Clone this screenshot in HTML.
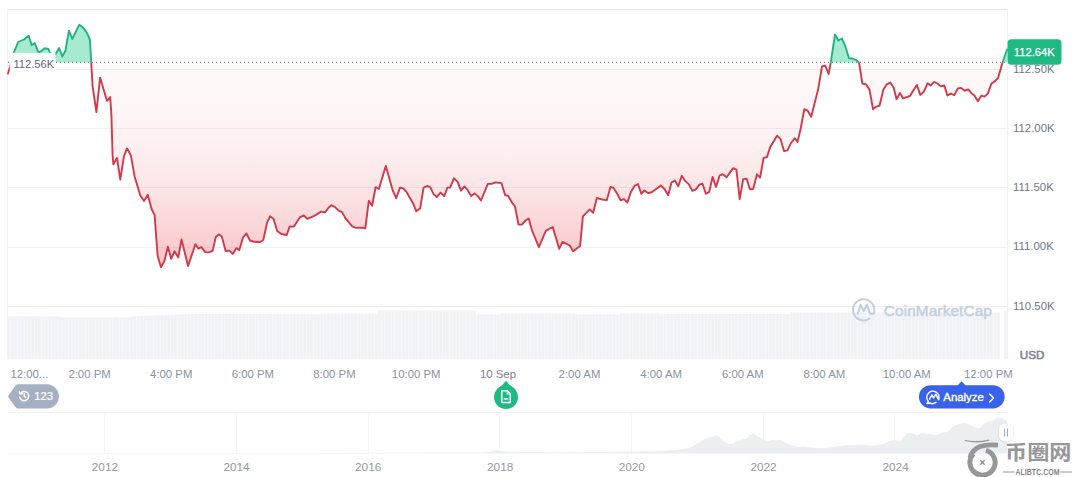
<!DOCTYPE html>
<html><head><meta charset="utf-8"><title>Chart</title>
<style>
html,body{margin:0;padding:0;background:#fff;}
body{width:1072px;height:477px;overflow:hidden;position:relative;font-family:"Liberation Sans","Noto Sans CJK SC",sans-serif;}
svg{position:absolute;left:0;top:0;}
text{font-family:"Liberation Sans","Noto Sans CJK SC",sans-serif;}
.ax{font-size:11.4px;fill:#8c93a1;}
.ay{font-size:11.4px;fill:#6f7787;}
.yr{font-size:11.8px;fill:#9399a6;}
</style></head><body>
<svg width="1072" height="477" viewBox="0 0 1072 477">
<defs>
<linearGradient id="rg" x1="0" y1="62" x2="0" y2="270" gradientUnits="userSpaceOnUse">
<stop offset="0" stop-color="#ea3943" stop-opacity="0.025"/>
<stop offset="0.33" stop-color="#ea3943" stop-opacity="0.058"/>
<stop offset="0.62" stop-color="#ea3943" stop-opacity="0.135"/>
<stop offset="0.88" stop-color="#ea3943" stop-opacity="0.25"/>
<stop offset="1" stop-color="#ea3943" stop-opacity="0.30"/>
</linearGradient>
<clipPath id="above"><rect x="0" y="0" width="1072" height="62.4"/></clipPath>
<clipPath id="below"><rect x="0" y="62.4" width="1072" height="300"/></clipPath>
<pattern id="stripes" width="3.4" height="60" patternUnits="userSpaceOnUse"><rect x="0" y="0" width="0.8" height="60" fill="#fff" fill-opacity="0.42"/></pattern>
</defs>
<!-- frame & grid -->
<g stroke="#f0f0f2" stroke-width="1" shape-rendering="crispEdges">
<line x1="8" y1="9.5" x2="1008" y2="9.5" stroke="#e6e6e8"/>
<line x1="7.5" y1="9" x2="7.5" y2="359" stroke="#f1f1f3"/>
<line x1="1007.5" y1="9" x2="1007.5" y2="359" stroke="#f1f1f3"/>
<line x1="8" y1="69.5" x2="1008" y2="69.5"/>
<line x1="8" y1="128.5" x2="1008" y2="128.5"/>
<line x1="8" y1="187.5" x2="1008" y2="187.5"/>
<line x1="8" y1="247.5" x2="1008" y2="247.5"/>
<line x1="8" y1="306.5" x2="1008" y2="306.5"/>
</g>
<!-- volume -->
<path d="M8 359 L8 316.6 L20 316.2 L58 316.6 L64 317.4 L126 317.4 L134 316.4 L150 315.4 L180 314.4 L190 314 L340 313.8 L377 313.8 L377 310.6 L475.5 310.6 L475.5 314.6 L500 314.4 L500 313.6 L575 313.6 L575 314.4 L620 314.4 L620 313.6 L660 313.6 L660 314 L790 314 L790 312.4 L1000 312.4 L1000 359 L1004 359 L1004 311.5 L1007.5 311.5 L1007.5 359 Z" fill="#eff2f6"/>
<path d="M8 359 L8 316.6 L20 316.2 L58 316.6 L64 317.4 L126 317.4 L134 316.4 L150 315.4 L180 314.4 L190 314 L340 313.8 L377 313.8 L377 310.6 L475.5 310.6 L475.5 314.6 L500 314.4 L500 313.6 L575 313.6 L575 314.4 L620 314.4 L620 313.6 L660 313.6 L660 314 L790 314 L790 312.4 L1000 312.4 L1000 359 L1004 359 L1004 311.5 L1007.5 311.5 L1007.5 359 Z" fill="url(#stripes)"/>
<!-- fills -->
<path d="M11.18 62.40 L11.80 60.00 L13.80 52.70 L18.20 42.00 L23.90 39.50 L28.70 35.80 L31.70 45.20 L34.60 42.90 L38.40 52.40 L40.90 51.50 L44.70 48.30 L48.40 49.00 L49.70 52.40 L52.50 56.00 L56.00 53.40 L59.10 48.00 L62.30 56.50 L65.40 50.80 L68.90 30.70 L72.30 38.90 L79.20 24.80 L83.00 27.60 L86.80 32.60 L89.90 39.50 L91.20 62.20 L91.21 62.40 Z M830.80 62.40 L835.00 34.50 L838.40 40.50 L842.00 38.50 L845.30 46.30 L849.00 58.30 L852.80 58.50 L856.00 60.00 L859.00 62.40 Z M1002.54 62.40 L1002.60 62.20 L1007.00 49.50 L1007.00 62.40 Z" fill="#16c784" fill-opacity="0.38"/>
<path d="M8.00 62.40 L8.00 73.50 L10.00 67.00 L11.18 62.40 Z M91.21 62.40 L92.60 86.40 L96.40 112.20 L100.10 77.60 L107.00 100.90 L110.20 97.10 L111.40 115.00 L112.60 155.30 L113.40 164.30 L117.00 158.00 L120.30 179.60 L123.90 156.30 L127.00 148.40 L130.80 155.20 L134.60 176.40 L140.20 195.30 L144.00 201.00 L147.80 194.70 L151.60 209.00 L154.60 215.10 L157.60 255.80 L161.00 267.20 L164.40 261.10 L167.90 246.80 L171.20 258.90 L174.50 251.30 L178.30 257.40 L181.50 239.50 L188.10 266.00 L195.40 244.20 L198.40 248.60 L201.40 247.10 L205.20 252.10 L209.00 252.40 L212.70 250.60 L215.80 237.00 L218.80 234.40 L221.80 236.50 L225.60 251.00 L229.30 250.60 L232.80 253.90 L236.40 248.00 L239.20 250.30 L242.90 237.70 L246.40 233.50 L250.00 240.50 L254.20 241.80 L260.30 242.00 L263.30 240.00 L267.10 222.60 L270.10 216.30 L273.60 218.90 L277.20 230.90 L281.40 234.00 L286.70 235.00 L289.70 226.40 L294.00 226.60 L300.10 217.10 L303.90 215.50 L307.30 218.90 L313.70 216.20 L321.20 211.60 L325.00 212.40 L328.80 207.50 L331.50 205.30 L334.80 206.80 L338.60 210.60 L342.00 212.10 L345.40 218.10 L352.20 226.40 L355.90 227.90 L362.00 227.60 L365.30 228.40 L368.80 200.80 L372.10 205.70 L375.60 187.20 L378.90 189.00 L385.80 166.00 L392.90 190.90 L396.20 198.20 L400.00 187.60 L403.50 188.70 L406.50 192.00 L413.30 203.80 L416.30 211.30 L420.10 208.60 L423.60 187.60 L426.90 186.00 L430.20 187.20 L433.70 194.40 L436.70 197.00 L440.60 192.60 L444.20 196.10 L447.40 187.60 L450.10 187.60 L453.90 178.30 L457.60 181.90 L461.00 190.70 L464.40 186.40 L467.50 189.90 L471.20 195.90 L474.50 193.40 L478.00 196.40 L481.00 200.50 L487.80 183.90 L491.60 183.90 L495.40 182.40 L501.40 183.10 L505.20 195.20 L508.20 195.90 L512.00 202.70 L515.00 206.50 L518.50 224.60 L521.80 224.60 L525.60 220.50 L528.70 218.50 L532.00 230.50 L538.90 247.20 L545.80 230.80 L552.70 227.00 L559.20 248.80 L562.50 241.90 L569.70 245.50 L573.10 251.30 L580.10 245.90 L582.90 216.40 L589.80 209.40 L593.20 212.80 L596.80 198.00 L603.60 199.80 L606.90 200.10 L610.40 187.00 L613.40 187.70 L617.20 193.80 L620.60 200.30 L624.00 199.10 L627.40 202.50 L630.80 192.30 L634.50 185.90 L638.00 184.00 L641.30 193.80 L644.30 190.50 L648.10 193.00 L651.60 192.30 L660.90 185.50 L664.70 189.20 L668.20 195.30 L671.50 182.50 L674.80 180.60 L678.30 186.20 L681.80 175.70 L685.10 180.90 L688.90 184.40 L692.30 190.80 L695.70 189.50 L699.40 184.70 L702.50 183.70 L705.90 193.80 L709.20 192.00 L712.60 176.90 L716.00 187.00 L719.50 175.70 L722.80 174.20 L726.60 177.20 L733.10 168.10 L736.40 169.60 L739.70 199.10 L743.20 179.20 L746.60 178.60 L749.90 189.30 L753.20 189.10 L757.00 174.30 L760.10 177.50 L763.60 157.90 L767.00 157.00 L770.20 147.00 L777.10 135.70 L780.50 139.10 L784.00 151.10 L787.50 150.40 L790.90 143.20 L794.70 138.20 L797.60 141.90 L800.80 128.00 L804.30 109.20 L807.30 110.30 L811.20 116.80 L818.10 89.60 L822.00 66.50 L825.20 65.60 L828.60 74.00 L830.80 62.40 L830.80 62.40 Z M859.00 62.40 L859.00 62.40 L862.40 83.60 L865.80 84.20 L869.50 89.60 L873.00 109.20 L875.80 106.80 L879.50 105.70 L883.40 89.60 L886.80 84.30 L890.30 82.60 L893.70 87.70 L896.50 99.20 L900.00 93.00 L903.00 98.30 L909.90 96.00 L916.80 84.90 L920.30 94.90 L923.70 91.90 L927.60 83.30 L930.60 85.60 L934.10 81.90 L937.60 83.50 L940.80 86.40 L944.20 85.40 L947.40 95.50 L950.60 93.60 L954.30 95.10 L957.80 88.40 L961.10 87.90 L964.80 90.70 L968.20 89.50 L971.20 92.90 L974.60 95.70 L977.90 101.30 L981.30 95.70 L984.60 96.60 L988.00 93.40 L991.30 83.70 L995.00 81.10 L998.00 78.30 L1002.54 62.40 Z" fill="url(#rg)"/>
<!-- baseline dotted -->
<line x1="8" y1="62.4" x2="1008" y2="62.4" stroke="#85878d" stroke-width="1.1" stroke-dasharray="1.1 2.9"/>
<!-- line -->
<path d="M8.0 73.5 L10.0 67.0 L11.8 60.0 L13.8 52.7 L18.2 42.0 L23.9 39.5 L28.7 35.8 L31.7 45.2 L34.6 42.9 L38.4 52.4 L40.9 51.5 L44.7 48.3 L48.4 49.0 L49.7 52.4 L52.5 56.0 L56.0 53.4 L59.1 48.0 L62.3 56.5 L65.4 50.8 L68.9 30.7 L72.3 38.9 L79.2 24.8 L83.0 27.6 L86.8 32.6 L89.9 39.5 L91.2 62.2 L92.6 86.4 L96.4 112.2 L100.1 77.6 L107.0 100.9 L110.2 97.1 L111.4 115.0 L112.6 155.3 L113.4 164.3 L117.0 158.0 L120.3 179.6 L123.9 156.3 L127.0 148.4 L130.8 155.2 L134.6 176.4 L140.2 195.3 L144.0 201.0 L147.8 194.7 L151.6 209.0 L154.6 215.1 L157.6 255.8 L161.0 267.2 L164.4 261.1 L167.9 246.8 L171.2 258.9 L174.5 251.3 L178.3 257.4 L181.5 239.5 L188.1 266.0 L195.4 244.2 L198.4 248.6 L201.4 247.1 L205.2 252.1 L209.0 252.4 L212.7 250.6 L215.8 237.0 L218.8 234.4 L221.8 236.5 L225.6 251.0 L229.3 250.6 L232.8 253.9 L236.4 248.0 L239.2 250.3 L242.9 237.7 L246.4 233.5 L250.0 240.5 L254.2 241.8 L260.3 242.0 L263.3 240.0 L267.1 222.6 L270.1 216.3 L273.6 218.9 L277.2 230.9 L281.4 234.0 L286.7 235.0 L289.7 226.4 L294.0 226.6 L300.1 217.1 L303.9 215.5 L307.3 218.9 L313.7 216.2 L321.2 211.6 L325.0 212.4 L328.8 207.5 L331.5 205.3 L334.8 206.8 L338.6 210.6 L342.0 212.1 L345.4 218.1 L352.2 226.4 L355.9 227.9 L362.0 227.6 L365.3 228.4 L368.8 200.8 L372.1 205.7 L375.6 187.2 L378.9 189.0 L385.8 166.0 L392.9 190.9 L396.2 198.2 L400.0 187.6 L403.5 188.7 L406.5 192.0 L413.3 203.8 L416.3 211.3 L420.1 208.6 L423.6 187.6 L426.9 186.0 L430.2 187.2 L433.7 194.4 L436.7 197.0 L440.6 192.6 L444.2 196.1 L447.4 187.6 L450.1 187.6 L453.9 178.3 L457.6 181.9 L461.0 190.7 L464.4 186.4 L467.5 189.9 L471.2 195.9 L474.5 193.4 L478.0 196.4 L481.0 200.5 L487.8 183.9 L491.6 183.9 L495.4 182.4 L501.4 183.1 L505.2 195.2 L508.2 195.9 L512.0 202.7 L515.0 206.5 L518.5 224.6 L521.8 224.6 L525.6 220.5 L528.7 218.5 L532.0 230.5 L538.9 247.2 L545.8 230.8 L552.7 227.0 L559.2 248.8 L562.5 241.9 L569.7 245.5 L573.1 251.3 L580.1 245.9 L582.9 216.4 L589.8 209.4 L593.2 212.8 L596.8 198.0 L603.6 199.8 L606.9 200.1 L610.4 187.0 L613.4 187.7 L617.2 193.8 L620.6 200.3 L624.0 199.1 L627.4 202.5 L630.8 192.3 L634.5 185.9 L638.0 184.0 L641.3 193.8 L644.3 190.5 L648.1 193.0 L651.6 192.3 L660.9 185.5 L664.7 189.2 L668.2 195.3 L671.5 182.5 L674.8 180.6 L678.3 186.2 L681.8 175.7 L685.1 180.9 L688.9 184.4 L692.3 190.8 L695.7 189.5 L699.4 184.7 L702.5 183.7 L705.9 193.8 L709.2 192.0 L712.6 176.9 L716.0 187.0 L719.5 175.7 L722.8 174.2 L726.6 177.2 L733.1 168.1 L736.4 169.6 L739.7 199.1 L743.2 179.2 L746.6 178.6 L749.9 189.3 L753.2 189.1 L757.0 174.3 L760.1 177.5 L763.6 157.9 L767.0 157.0 L770.2 147.0 L777.1 135.7 L780.5 139.1 L784.0 151.1 L787.5 150.4 L790.9 143.2 L794.7 138.2 L797.6 141.9 L800.8 128.0 L804.3 109.2 L807.3 110.3 L811.2 116.8 L818.1 89.6 L822.0 66.5 L825.2 65.6 L828.6 74.0 L830.8 62.4 L835.0 34.5 L838.4 40.5 L842.0 38.5 L845.3 46.3 L849.0 58.3 L852.8 58.5 L856.0 60.0 L859.0 62.4 L862.4 83.6 L865.8 84.2 L869.5 89.6 L873.0 109.2 L875.8 106.8 L879.5 105.7 L883.4 89.6 L886.8 84.3 L890.3 82.6 L893.7 87.7 L896.5 99.2 L900.0 93.0 L903.0 98.3 L909.9 96.0 L916.8 84.9 L920.3 94.9 L923.7 91.9 L927.6 83.3 L930.6 85.6 L934.1 81.9 L937.6 83.5 L940.8 86.4 L944.2 85.4 L947.4 95.5 L950.6 93.6 L954.3 95.1 L957.8 88.4 L961.1 87.9 L964.8 90.7 L968.2 89.5 L971.2 92.9 L974.6 95.7 L977.9 101.3 L981.3 95.7 L984.6 96.6 L988.0 93.4 L991.3 83.7 L995.0 81.1 L998.0 78.3 L1002.6 62.2 L1007.0 49.5" fill="none" stroke="#20b283" stroke-width="1.9" stroke-linejoin="round" stroke-linecap="round" clip-path="url(#above)"/>
<path d="M8.0 73.5 L10.0 67.0 L11.8 60.0 L13.8 52.7 L18.2 42.0 L23.9 39.5 L28.7 35.8 L31.7 45.2 L34.6 42.9 L38.4 52.4 L40.9 51.5 L44.7 48.3 L48.4 49.0 L49.7 52.4 L52.5 56.0 L56.0 53.4 L59.1 48.0 L62.3 56.5 L65.4 50.8 L68.9 30.7 L72.3 38.9 L79.2 24.8 L83.0 27.6 L86.8 32.6 L89.9 39.5 L91.2 62.2 L92.6 86.4 L96.4 112.2 L100.1 77.6 L107.0 100.9 L110.2 97.1 L111.4 115.0 L112.6 155.3 L113.4 164.3 L117.0 158.0 L120.3 179.6 L123.9 156.3 L127.0 148.4 L130.8 155.2 L134.6 176.4 L140.2 195.3 L144.0 201.0 L147.8 194.7 L151.6 209.0 L154.6 215.1 L157.6 255.8 L161.0 267.2 L164.4 261.1 L167.9 246.8 L171.2 258.9 L174.5 251.3 L178.3 257.4 L181.5 239.5 L188.1 266.0 L195.4 244.2 L198.4 248.6 L201.4 247.1 L205.2 252.1 L209.0 252.4 L212.7 250.6 L215.8 237.0 L218.8 234.4 L221.8 236.5 L225.6 251.0 L229.3 250.6 L232.8 253.9 L236.4 248.0 L239.2 250.3 L242.9 237.7 L246.4 233.5 L250.0 240.5 L254.2 241.8 L260.3 242.0 L263.3 240.0 L267.1 222.6 L270.1 216.3 L273.6 218.9 L277.2 230.9 L281.4 234.0 L286.7 235.0 L289.7 226.4 L294.0 226.6 L300.1 217.1 L303.9 215.5 L307.3 218.9 L313.7 216.2 L321.2 211.6 L325.0 212.4 L328.8 207.5 L331.5 205.3 L334.8 206.8 L338.6 210.6 L342.0 212.1 L345.4 218.1 L352.2 226.4 L355.9 227.9 L362.0 227.6 L365.3 228.4 L368.8 200.8 L372.1 205.7 L375.6 187.2 L378.9 189.0 L385.8 166.0 L392.9 190.9 L396.2 198.2 L400.0 187.6 L403.5 188.7 L406.5 192.0 L413.3 203.8 L416.3 211.3 L420.1 208.6 L423.6 187.6 L426.9 186.0 L430.2 187.2 L433.7 194.4 L436.7 197.0 L440.6 192.6 L444.2 196.1 L447.4 187.6 L450.1 187.6 L453.9 178.3 L457.6 181.9 L461.0 190.7 L464.4 186.4 L467.5 189.9 L471.2 195.9 L474.5 193.4 L478.0 196.4 L481.0 200.5 L487.8 183.9 L491.6 183.9 L495.4 182.4 L501.4 183.1 L505.2 195.2 L508.2 195.9 L512.0 202.7 L515.0 206.5 L518.5 224.6 L521.8 224.6 L525.6 220.5 L528.7 218.5 L532.0 230.5 L538.9 247.2 L545.8 230.8 L552.7 227.0 L559.2 248.8 L562.5 241.9 L569.7 245.5 L573.1 251.3 L580.1 245.9 L582.9 216.4 L589.8 209.4 L593.2 212.8 L596.8 198.0 L603.6 199.8 L606.9 200.1 L610.4 187.0 L613.4 187.7 L617.2 193.8 L620.6 200.3 L624.0 199.1 L627.4 202.5 L630.8 192.3 L634.5 185.9 L638.0 184.0 L641.3 193.8 L644.3 190.5 L648.1 193.0 L651.6 192.3 L660.9 185.5 L664.7 189.2 L668.2 195.3 L671.5 182.5 L674.8 180.6 L678.3 186.2 L681.8 175.7 L685.1 180.9 L688.9 184.4 L692.3 190.8 L695.7 189.5 L699.4 184.7 L702.5 183.7 L705.9 193.8 L709.2 192.0 L712.6 176.9 L716.0 187.0 L719.5 175.7 L722.8 174.2 L726.6 177.2 L733.1 168.1 L736.4 169.6 L739.7 199.1 L743.2 179.2 L746.6 178.6 L749.9 189.3 L753.2 189.1 L757.0 174.3 L760.1 177.5 L763.6 157.9 L767.0 157.0 L770.2 147.0 L777.1 135.7 L780.5 139.1 L784.0 151.1 L787.5 150.4 L790.9 143.2 L794.7 138.2 L797.6 141.9 L800.8 128.0 L804.3 109.2 L807.3 110.3 L811.2 116.8 L818.1 89.6 L822.0 66.5 L825.2 65.6 L828.6 74.0 L830.8 62.4 L835.0 34.5 L838.4 40.5 L842.0 38.5 L845.3 46.3 L849.0 58.3 L852.8 58.5 L856.0 60.0 L859.0 62.4 L862.4 83.6 L865.8 84.2 L869.5 89.6 L873.0 109.2 L875.8 106.8 L879.5 105.7 L883.4 89.6 L886.8 84.3 L890.3 82.6 L893.7 87.7 L896.5 99.2 L900.0 93.0 L903.0 98.3 L909.9 96.0 L916.8 84.9 L920.3 94.9 L923.7 91.9 L927.6 83.3 L930.6 85.6 L934.1 81.9 L937.6 83.5 L940.8 86.4 L944.2 85.4 L947.4 95.5 L950.6 93.6 L954.3 95.1 L957.8 88.4 L961.1 87.9 L964.8 90.7 L968.2 89.5 L971.2 92.9 L974.6 95.7 L977.9 101.3 L981.3 95.7 L984.6 96.6 L988.0 93.4 L991.3 83.7 L995.0 81.1 L998.0 78.3 L1002.6 62.2 L1007.0 49.5" fill="none" stroke="#d23949" stroke-width="1.9" stroke-linejoin="round" stroke-linecap="round" clip-path="url(#below)"/>
<!-- start label -->
<rect x="9.8" y="52.8" width="45.7" height="19" fill="#fff" fill-opacity="0.94"/>
<text x="13.4" y="67.8" font-size="11.2" fill="#5f687a">112.56K</text>
<!-- y axis labels -->
<g class="ay">
<text x="1013" y="72.8">112.50K</text>
<text x="1013" y="131.7">112.00K</text>
<text x="1013" y="190.8">111.50K</text>
<text x="1013" y="250.2">111.00K</text>
<text x="1013" y="310">110.50K</text>
</g>
<!-- price badge -->
<rect x="1007.5" y="39.2" width="54" height="25.5" rx="4" fill="#1fb984"/>
<text x="1034.3" y="56.2" text-anchor="middle" font-size="11.2" fill="#fff" stroke="#fff" stroke-width="0.25">112.64K</text>
<text x="1032.1" y="359" text-anchor="middle" font-size="11.6" fill="#7b8393" stroke="#7b8393" stroke-width="0.55">USD</text>
<!-- CMC watermark -->
<g opacity="1">
<path d="M873.6 313.4 A10.6 10.6 0 1 0 869.7 318.5" fill="none" stroke="#c6cedd" stroke-width="2.1" stroke-linecap="round"/>
<path d="M857.7 313.8 L860.6 304.9 L863.7 311 L866.9 304.5 L869.5 312.4 Q870.4 314.8 873.6 313.4" fill="none" stroke="#c6cedd" stroke-width="2.1" stroke-linecap="round" stroke-linejoin="round"/>
<text x="883.8" y="316.4" font-size="15.4" fill="#c6cedd" stroke="#c6cedd" stroke-width="0.5" stroke-linejoin="round" letter-spacing="0.1">CoinMarketCap</text>
</g>
<!-- x axis labels -->
<g class="ax" text-anchor="middle">
<text x="10.4" y="378.3" text-anchor="start">12:00...</text>
<text x="89.6" y="378.3">2:00 PM</text>
<text x="171.2" y="378.3">4:00 PM</text>
<text x="252.9" y="378.3">6:00 PM</text>
<text x="334.5" y="378.3">8:00 PM</text>
<text x="416.2" y="378.3">10:00 PM</text>
<text x="498" y="378.3" fill="#7a8291">10 Sep</text>
<text x="579.5" y="378.3">2:00 AM</text>
<text x="661.1" y="378.3">4:00 AM</text>
<text x="742.8" y="378.3">6:00 AM</text>
<text x="824.4" y="378.3">8:00 AM</text>
<text x="906.8" y="378.3">10:00 AM</text>
<text x="988.4" y="378.3">12:00 PM</text>
</g>
<!-- 123 badge -->
<path d="M8.6 395.2 L15.6 385.6 Q16.6 384.2 18.4 384.2 L46.7 384.2 A12.2 12.2 0 0 1 46.7 408.6 L18.4 408.6 Q16.6 408.6 15.6 407.2 L8.6 397.6 Q7.8 396.4 8.6 395.2 Z" fill="#a6b0c3"/>
<g fill="none" stroke="#fff" stroke-width="1.5" stroke-linecap="round" stroke-linejoin="round">
<path d="M20.2 393.6 A4.6 4.6 0 1 1 19.6 397"/>
<path d="M19.3 391.6 L20 394 L22.4 393.6"/>
<path d="M24.2 393.8 L24.2 396.4 L26 397.5"/>
</g>
<text x="34.3" y="400.3" font-size="11.2" fill="#fff" stroke="#fff" stroke-width="0.2">123</text>
<!-- news marker -->
<path d="M506 380.9 Q506.6 381 507 381.8 Q508.8 385 512.6 387 A12 12 0 1 1 499.4 387 Q503.2 385 505 381.8 Q505.4 381 506 380.9 Z" fill="#1fb984"/>
<path d="M501.8 390.8 L507.4 390.8 L510.3 393.8 L510.3 402.4 L501.8 402.4 Z" fill="none" stroke="#fff" stroke-width="1.5" stroke-linejoin="round"/>
<path d="M507.2 391.2 L507.2 394 L509.8 394" fill="none" stroke="#fff" stroke-width="1.1"/>
<line x1="503.8" y1="398.8" x2="508.4" y2="398.8" stroke="#fff" stroke-width="1.5"/>
<!-- analyze -->
<path d="M961.6 381.2 L965.4 385.2 L993 385.2 A11.65 11.65 0 0 1 993 408.5 L930.6 408.5 A11.65 11.65 0 0 1 930.6 385.2 L957.8 385.2 Z" fill="#3862ea"/>
<g fill="none" stroke="#fff" stroke-width="1.5" stroke-linecap="round" stroke-linejoin="round">
<path d="M938.6 399.6 A6.1 6.1 0 1 0 928.4 401.4 L927 403.6 L929.8 403 A6.1 6.1 0 0 0 936 402.4"/>
<path d="M929.6 399.2 L931.8 395 L933.6 397.9 L935.8 394.2 L938 398.6"/>
</g>
<text x="943.3" y="401" font-size="11.4" fill="#fff" stroke="#fff" stroke-width="0.35">Analyze</text>
<path d="M989.6 394 L993.6 398 L989.6 402" fill="none" stroke="#fff" stroke-width="1.5" stroke-linecap="round" stroke-linejoin="round"/>
<!-- mini chart -->
<g stroke="#f4f5f7" stroke-width="1" shape-rendering="crispEdges">
<line x1="8" y1="412.5" x2="1008" y2="412.5" stroke="#f1f2f4"/>
<line x1="104.5" y1="413" x2="104.5" y2="453"/>
<line x1="236.5" y1="413" x2="236.5" y2="453"/>
<line x1="368.5" y1="413" x2="368.5" y2="453"/>
<line x1="499.5" y1="413" x2="499.5" y2="453"/>
<line x1="631.5" y1="413" x2="631.5" y2="453"/>
<line x1="763.5" y1="413" x2="763.5" y2="453"/>
<line x1="894.5" y1="413" x2="894.5" y2="453"/>
</g>
<path d="M8 453.5 L8 453 L300 453 L480 452.6 L490 451.8 L496 449.8 L500 451 L510 451.8 L560 452.3 L600 452 L640 451.3 L660 451 L676 450.1 L688.5 448.3 L692 446.8 L696 444.5 L700 442 L704 438.9 L707 438.2 L711 436.4 L713 436.9 L716 435.1 L719.8 437 L723.5 441.4 L726 442 L728.5 443.9 L733.5 443.3 L737.3 440.1 L739.5 440.4 L742.3 438.9 L746 438.9 L749.8 434.5 L751.5 434.8 L753.5 433.3 L757.3 436.4 L759.5 436.9 L762.3 438.9 L767.3 441.4 L772.3 440.1 L776 440.4 L779.8 439.5 L784.8 442.6 L791 445.1 L798.5 447 L803.5 446.4 L810 447.6 L825 448.3 L832.5 447 L843.8 445.5 L852.5 445.1 L862.5 444.8 L872.5 445.5 L880 444.8 L885 443.3 L890 441 L895 440.1 L900 440.8 L903.8 436.8 L907.2 433.3 L912.5 433.2 L915 434.5 L917.5 435.4 L921.5 432.8 L925 433.6 L928.8 433.9 L936.3 435.1 L942.5 432.6 L947.5 432 L950 429.6 L952.5 426.4 L955.5 425.6 L958.8 423.9 L962 423.6 L965 422.6 L970 425.1 L975 427.6 L980 428.3 L983.8 423.9 L987.5 421.4 L992.5 420.8 L995 419 L997.5 417.6 L1002.5 418.3 L1006.3 420.8 L1007 421 L1007 453.5 Z" fill="#eceff2"/>
<g class="yr" text-anchor="middle">
<text x="104.9" y="470.6">2012</text>
<text x="236.5" y="470.6">2014</text>
<text x="368.2" y="470.6">2016</text>
<text x="500.2" y="470.6">2018</text>
<text x="631.8" y="470.6">2020</text>
<text x="763.5" y="470.6">2022</text>
<text x="895.6" y="470.6">2024</text>
</g>
<!-- handle -->
<rect x="998.4" y="423.6" width="15.2" height="18.6" rx="6.5" fill="#000" fill-opacity="0.06"/>
<rect x="997.9" y="422.9" width="16.2" height="19.8" rx="7" fill="#000" fill-opacity="0.03"/>
<rect x="998.8" y="423.6" width="14.4" height="17.8" rx="6" fill="#fff"/>
<line x1="1004.6" y1="428.5" x2="1004.6" y2="436.5" stroke="#9aa3b5" stroke-width="1"/>
<line x1="1007.4" y1="428.5" x2="1007.4" y2="436.5" stroke="#9aa3b5" stroke-width="1"/>
<!-- site watermark -->
<g fill="none" stroke="#979797">
<path d="M986 450.4 A12.6 12.6 0 1 1 973.4 453.8" stroke-width="5"/>
<path d="M998 445.2 Q986.5 444.2 980 446.6 Q972.4 449.6 969.9 457.6" stroke-width="4.8"/>
</g>
<g fill="#979797">
<path d="M964.8 440 Q977 442.2 989 439.4 L989.6 440.8 Q977 444 964.8 441 Z"/>
<path d="M979.20 459.10 L982.50 461.15 L985.80 459.10 L983.75 462.40 L985.80 465.70 L982.50 463.65 L979.20 465.70 L981.25 462.40 Z"/>
</g>
<text transform="translate(1005 460.2) scale(1.08 1)" font-size="20.5" font-weight="bold" fill="#979797" font-family="'Noto Sans CJK SC','WenQuanYi Zen Hei',sans-serif">币圈网</text>
<line x1="1003" y1="472" x2="1014.6" y2="472" stroke="#8b8b8b" stroke-width="0.9"/>
<line x1="1060.4" y1="472" x2="1072" y2="472" stroke="#8b8b8b" stroke-width="0.9"/>
<text x="1037.5" y="475" text-anchor="middle" font-size="8.6" font-weight="bold" fill="#868686" textLength="44" lengthAdjust="spacingAndGlyphs">ALIBTC.COM</text>
</svg>
</body></html>
